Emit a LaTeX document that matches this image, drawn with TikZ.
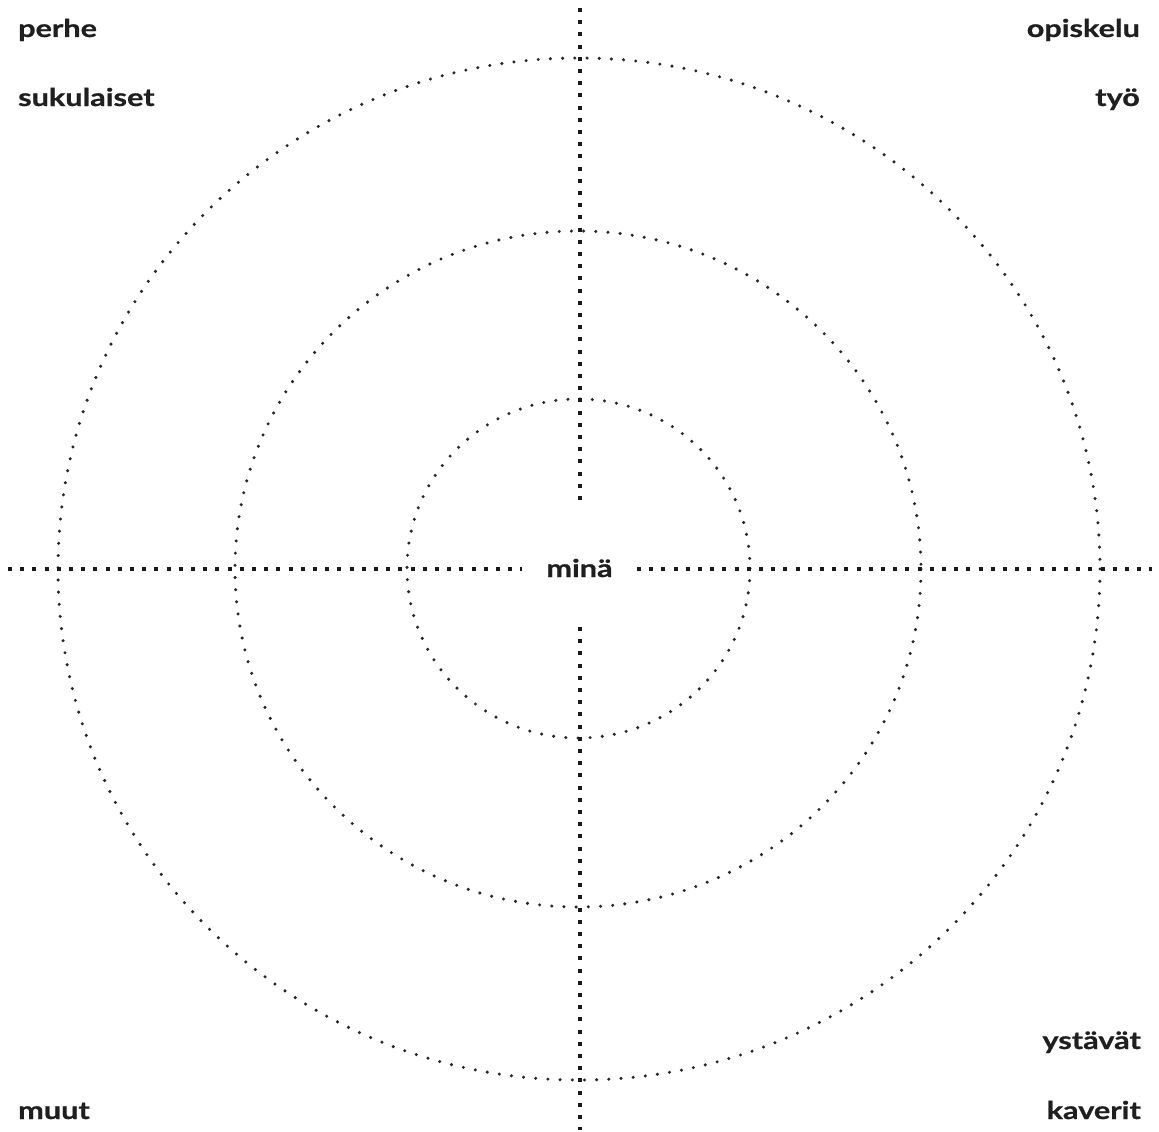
\documentclass[tikz,border=0pt]{standalone}
\usepackage{fontspec}
\setmainfont{Lato}[BoldFeatures={FakeBold=0.7}]
\usepackage{graphicx}
\newcommand{\wide}[1]{\scalebox{1.25}[1]{#1}}
\begin{document}
\begin{tikzpicture}[x=1pt,y=-1pt,
  lbl/.style={inner sep=0pt,font=\fontsize{24.5}{28}\selectfont\bfseries,text=black!88},
  ring/.style={line width=3.4pt,line cap=round,dash pattern=on 0pt off 12.2pt,black!85},
  axis/.style={line width=3.2pt,dash pattern=on 4pt off 8.2pt,black!90}]
\useasboundingbox[fill=white] (0,0) rectangle (1159,1132);
% rings
\draw[ring] (579,569) ellipse [x radius=521,y radius=511];
\draw[ring] (578,569) ellipse [x radius=343,y radius=338];
\draw[ring] (578.5,568.5) ellipse [x radius=171.5,y radius=169.5];
% axis ends
\coordinate (t1) at (580,8);
\coordinate (t2) at (580,508);
\coordinate (b1) at (580,627);
\coordinate (b2) at (580,1130);
\coordinate (l1) at (8,569);
\coordinate (l2) at (522,569);
\coordinate (r1) at (637,569);
\coordinate (r2) at (1152,569);
\draw[axis] (t1) -- (t2);
\draw[axis] (b1) -- (b2);
\draw[axis] (l1) -- (l2);
\draw[axis] (r1) -- (r2);
% labels
\node[lbl,anchor=base] (mina) at (579.5,577) {\wide{minä}};
\node[lbl,anchor=base west] (perhe) at (18,37) {\wide{perhe}};
\node[lbl,anchor=base west] (suku) at (18,106) {\wide{sukulaiset}};
\node[lbl,anchor=base east] (opis) at (1140,37) {\wide{opiskelu}};
\node[lbl,anchor=base east] (tyo) at (1140,106) {\wide{työ}};
\node[lbl,anchor=base west] (muut) at (18,1119) {\wide{muut}};
\node[lbl,anchor=base east] (ysta) at (1141,1049) {\wide{ystävät}};
\node[lbl,anchor=base east] (kave) at (1141,1119) {\wide{kaverit}};
\end{tikzpicture}
\end{document}
